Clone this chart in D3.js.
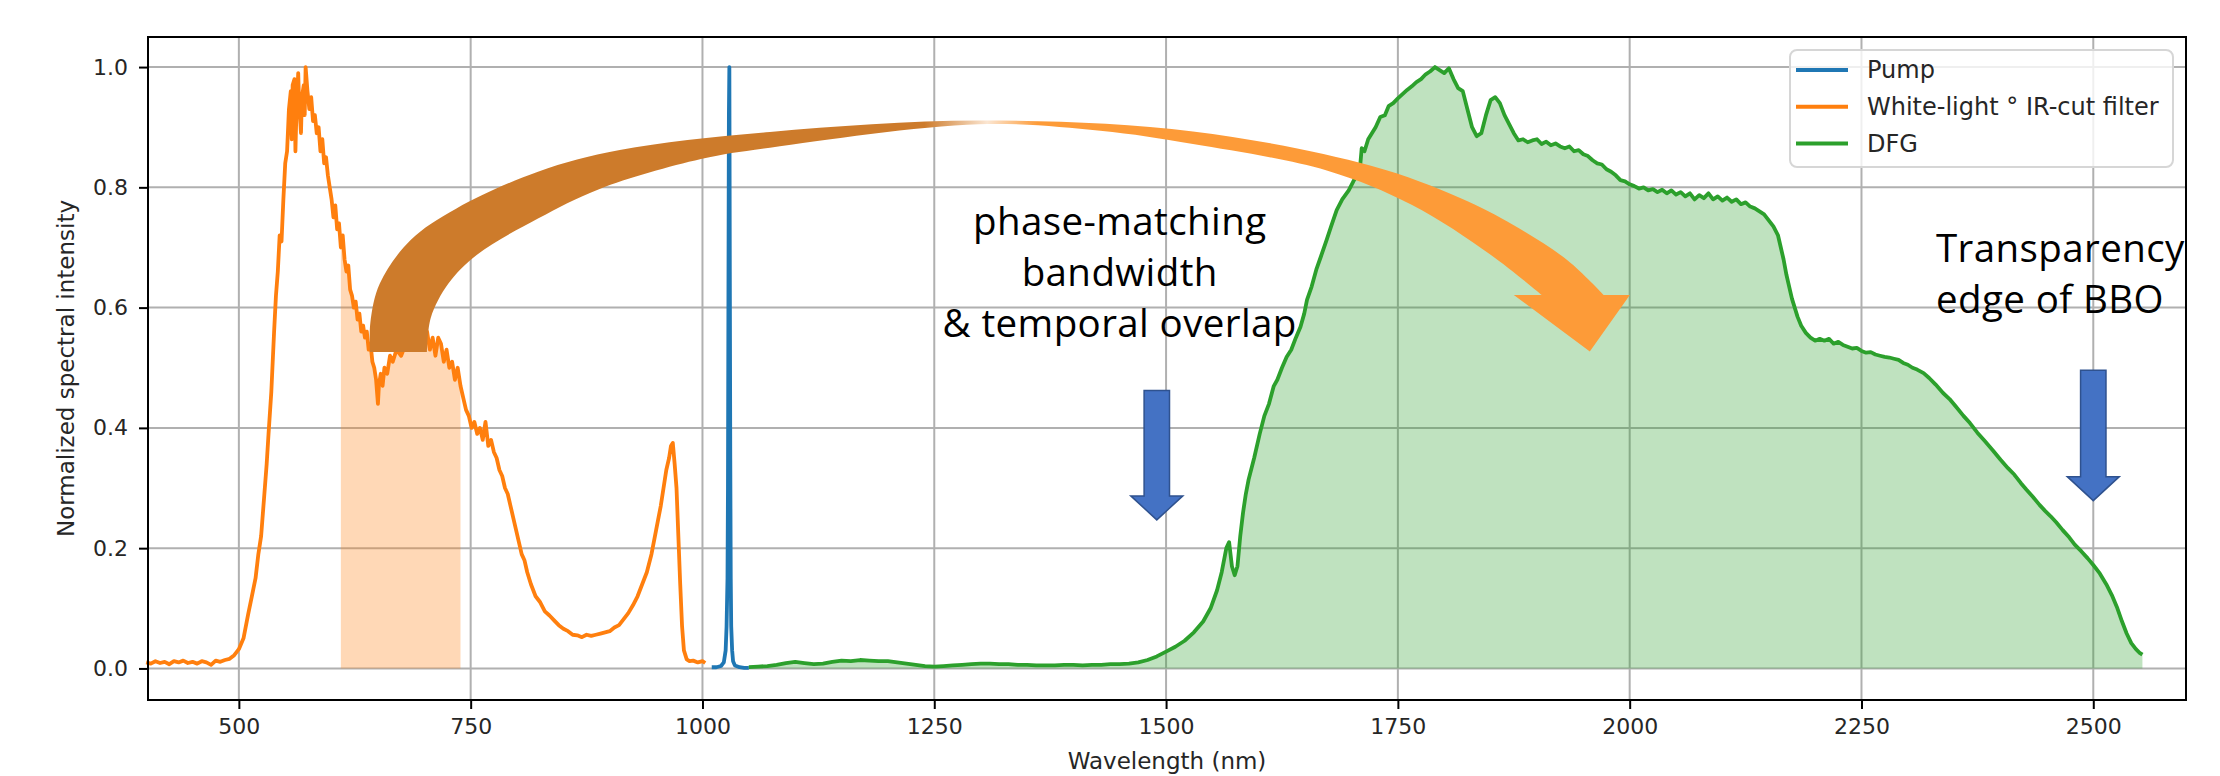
<!DOCTYPE html>
<html>
  <head>
    <meta charset="UTF-8">
    <style>
      body {
        margin: 0;
        background: #ffffff;
      }

      .tick text {
        font-family: 'DejaVu Sans', sans-serif;
        font-size: 22px;
        fill: #262626;
      }

      .axis-label {
        font-family: 'DejaVu Sans', sans-serif;
        font-size: 23px;
        fill: #262626;
      }

      .legend text {
        font-family: 'DejaVu Sans', sans-serif;
        font-size: 24px;
        fill: #262626;
      }

      .note {
        font-family: 'Open Sans', sans-serif;
        font-size: 38.5px;
        letter-spacing: 0.4px;
        fill: #000000;
      }
    </style>
    <script src="https://cdn.jsdelivr.net/npm/d3@7"></script>
  </head>

  <body>
    <svg id="spectrum-chart"></svg>

    <script type="text/javascript">
      // values
      let seriesNames = ['Pump', 'White-light \u00b0 IR-cut filter', 'DFG']
      let seriesColors = ['#1f77b4', '#ff7f0e', '#2ca02c']
      let xTicks = [500, 750, 1000, 1250, 1500, 1750, 2000, 2250, 2500]
      let yTicks = [0, 0.2, 0.4, 0.6, 0.8, 1.0]
      let filterBand = [610, 740]

      let pumpWavelength = [1010, 1015, 1020, 1023, 1025, 1026, 1027, 1027.5, 1028, 1028.5, 1029, 1029.5, 1030, 1030.5, 1031, 1032, 1033, 1035, 1040, 1045, 1050]
      let pumpIntensity = [0.002, 0.002, 0.004, 0.01, 0.03, 0.07, 0.15, 0.30, 0.62, 0.92, 1.0, 0.66, 0.35, 0.15, 0.07, 0.03, 0.012, 0.005, 0.002, 0.001, 0.001]

      let whiteWavelength = [
        400, 405, 410, 415, 420, 425, 430, 435, 440, 445, 450, 455, 460, 465, 470, 475, 480, 485, 490, 495,
        500, 505, 510, 514, 518, 521, 524, 527, 530, 532, 535, 538, 540, 542, 544, 546, 548, 550, 552, 554,
        556, 557, 558, 560, 561, 562, 564, 565, 567, 568, 570, 571, 572, 574, 576, 578, 580, 582, 584, 586,
        588, 590, 592, 594, 596, 598, 600, 602, 604, 606, 608, 610, 612, 614, 616, 618, 620, 622, 624, 626,
        628, 630, 632, 634, 636, 638, 640, 642, 644, 646, 648, 650, 651, 653, 655, 657, 660, 663, 666, 670,
        675, 680, 685, 690, 695, 700, 703, 706, 709, 712, 715, 718, 721, 724, 727, 730, 733, 736, 739, 742,
        745, 748, 751, 754, 757, 760, 763, 766, 769, 772, 775, 778, 781, 784, 787, 790, 793, 796, 799, 802,
        805, 808, 811, 815, 820, 825, 830, 835, 840, 845, 850, 855, 860, 865, 870, 875, 880, 885, 890, 895,
        900, 905, 910, 915, 920, 925, 930, 935, 940, 945, 950, 955, 958, 961, 964, 966, 968, 970, 972, 974,
        976, 978, 980, 983, 986, 990, 995, 1000, 1003
      ]
      let whiteIntensity = [
        0.010, 0.008, 0.012, 0.009, 0.011, 0.007, 0.012, 0.010, 0.013, 0.009, 0.011, 0.008, 0.012, 0.010, 0.006, 0.013, 0.011, 0.014, 0.016, 0.022,
        0.032, 0.05, 0.09, 0.12, 0.15, 0.19, 0.22, 0.28, 0.34, 0.39, 0.46, 0.56, 0.62, 0.66, 0.72, 0.71, 0.78, 0.84, 0.86, 0.93,
        0.96, 0.88, 0.97, 0.98, 0.86, 0.92, 0.99, 0.94, 0.89, 0.95, 0.97, 0.92, 1.0, 0.96, 0.93, 0.95, 0.91, 0.92, 0.89, 0.90,
        0.86, 0.88, 0.84, 0.85, 0.82, 0.80, 0.78, 0.75, 0.77, 0.73, 0.74, 0.70, 0.72, 0.68, 0.66, 0.67, 0.63, 0.62, 0.60, 0.61,
        0.58, 0.59, 0.56, 0.57, 0.55, 0.56, 0.53, 0.54, 0.51, 0.50, 0.48, 0.44, 0.47, 0.49, 0.47, 0.50, 0.49, 0.52, 0.51, 0.53,
        0.52, 0.54, 0.53, 0.55, 0.54, 0.53, 0.56, 0.53, 0.55, 0.52, 0.55, 0.54, 0.51, 0.53, 0.50, 0.51, 0.48, 0.50, 0.47, 0.45,
        0.43, 0.42, 0.40, 0.41, 0.39, 0.40, 0.38, 0.41, 0.37, 0.38, 0.36, 0.35, 0.33, 0.32, 0.30, 0.29, 0.27, 0.25, 0.23, 0.21,
        0.19, 0.18, 0.16, 0.14, 0.12, 0.11, 0.095, 0.088, 0.08, 0.072, 0.066, 0.062, 0.056, 0.055, 0.052, 0.056, 0.054, 0.056, 0.058, 0.060,
        0.062, 0.068, 0.072, 0.082, 0.092, 0.105, 0.12, 0.14, 0.16, 0.19, 0.23, 0.27, 0.30, 0.33, 0.35, 0.37, 0.375, 0.34, 0.30, 0.22,
        0.14, 0.07, 0.03, 0.015, 0.012, 0.013, 0.010, 0.012, 0.009
      ]

      let dfgWavelength = [
        1050, 1060, 1070, 1080, 1090, 1100, 1110, 1120, 1130, 1140, 1150, 1160, 1170, 1180, 1190, 1200, 1210, 1220, 1230, 1240,
        1250, 1260, 1270, 1280, 1290, 1300, 1310, 1320, 1330, 1340, 1350, 1360, 1370, 1380, 1390, 1400, 1410, 1420, 1430, 1440,
        1450, 1460, 1470, 1480, 1490, 1500, 1510, 1520, 1530, 1540, 1548, 1555, 1560, 1565, 1568, 1571, 1574, 1577, 1580, 1583,
        1586, 1589, 1595, 1601, 1606, 1611, 1616, 1620, 1625, 1630, 1635, 1640, 1645, 1649, 1652, 1657, 1662, 1667, 1673, 1678,
        1684, 1690, 1697, 1702, 1706, 1709, 1711, 1714, 1718, 1722, 1726, 1731, 1736, 1740, 1745, 1750, 1755, 1760, 1765, 1770,
        1775, 1780, 1785, 1790, 1795, 1800, 1805, 1810, 1815, 1820, 1825, 1830, 1835, 1840, 1845, 1850, 1855, 1860, 1865, 1870,
        1875, 1880, 1885, 1890, 1895, 1900, 1905, 1910, 1915, 1920, 1925, 1930, 1935, 1940, 1945, 1950, 1955, 1960, 1965, 1970,
        1975, 1980, 1985, 1990, 1995, 2000, 2005, 2010, 2015, 2020, 2025, 2030, 2035, 2040, 2045, 2050, 2055, 2060, 2065, 2070,
        2075, 2080, 2085, 2090, 2095, 2100, 2105, 2110, 2115, 2120, 2125, 2130, 2135, 2140, 2145, 2150, 2155, 2160, 2163, 2166,
        2169, 2172, 2175, 2178, 2181, 2185, 2190, 2195, 2200, 2205, 2210, 2215, 2220, 2225, 2230, 2235, 2240, 2245, 2250, 2255,
        2260, 2265, 2270, 2275, 2280, 2285, 2290, 2295, 2300, 2305, 2310, 2317, 2323, 2330, 2338, 2345, 2352, 2360, 2367, 2375,
        2383, 2392, 2400, 2408, 2415, 2422, 2428, 2435, 2442, 2448, 2454, 2460, 2467, 2474, 2480, 2487, 2494, 2500, 2507, 2514,
        2520, 2526, 2531, 2536, 2541, 2546, 2550, 2553
      ]
      let dfgIntensity = [
        0.002, 0.003, 0.004, 0.006, 0.009, 0.011, 0.009, 0.007, 0.008, 0.011, 0.013, 0.012, 0.014, 0.013, 0.012, 0.012, 0.010, 0.008, 0.006, 0.004,
        0.003, 0.004, 0.005, 0.006, 0.007, 0.008, 0.008, 0.007, 0.007, 0.006, 0.006, 0.005, 0.005, 0.005, 0.006, 0.006, 0.005, 0.006, 0.006, 0.007,
        0.007, 0.008, 0.010, 0.014, 0.020, 0.028, 0.036, 0.046, 0.060, 0.078, 0.10, 0.13, 0.16, 0.20, 0.21, 0.17, 0.155, 0.17, 0.22, 0.259,
        0.29, 0.314, 0.35, 0.39, 0.42, 0.44, 0.469, 0.48, 0.50, 0.518, 0.53, 0.55, 0.568, 0.59, 0.613, 0.635, 0.663, 0.685, 0.712, 0.735,
        0.762, 0.78, 0.795, 0.81, 0.82, 0.83, 0.865, 0.86, 0.88, 0.89, 0.90, 0.917, 0.92, 0.935, 0.94, 0.948, 0.955, 0.962, 0.968, 0.975,
        0.98, 0.988, 0.993, 1.0, 0.995, 0.99, 0.998, 0.98, 0.965, 0.96, 0.93, 0.90, 0.885, 0.89, 0.92, 0.945, 0.95, 0.94, 0.92, 0.905,
        0.89, 0.878, 0.88, 0.875, 0.878, 0.88, 0.872, 0.876, 0.87, 0.873, 0.868, 0.865, 0.868, 0.86, 0.862, 0.855, 0.852, 0.845, 0.84, 0.838,
        0.83, 0.826, 0.82, 0.812, 0.81, 0.805, 0.802, 0.798, 0.8, 0.795, 0.797, 0.792, 0.796, 0.79, 0.795, 0.788, 0.792, 0.785, 0.79, 0.78,
        0.787, 0.782, 0.79, 0.78, 0.785, 0.778, 0.783, 0.776, 0.78, 0.772, 0.775, 0.768, 0.765, 0.76, 0.755, 0.745, 0.735, 0.72, 0.70, 0.68,
        0.655, 0.635, 0.615, 0.6, 0.585, 0.57, 0.558, 0.55, 0.545, 0.548, 0.545, 0.548, 0.54, 0.543, 0.538, 0.535, 0.532, 0.533, 0.528, 0.525,
        0.526, 0.522, 0.52, 0.518, 0.517, 0.515, 0.513, 0.508, 0.505, 0.5, 0.497, 0.491, 0.483, 0.472, 0.458, 0.448, 0.435, 0.42, 0.408, 0.392,
        0.378, 0.362, 0.347, 0.333, 0.322, 0.308, 0.297, 0.285, 0.272, 0.262, 0.253, 0.243, 0.23, 0.218, 0.206, 0.195, 0.183, 0.172, 0.158, 0.14,
        0.122, 0.1, 0.078, 0.058, 0.042, 0.032, 0.026, 0.023
      ]

      // slide annotations, placed in data units (wavelength, intensity)
      let arcOuter = [[641.4, 0.526], [641.8, 0.575], [652, 0.640], [685, 0.712], [734.7, 0.765], [822.6, 0.826], [910.8, 0.862],
        [1072.8, 0.892], [1297.8, 0.911], [1529, 0.893], [1721, 0.836], [1817.8, 0.782], [1875, 0.737], [1933.5, 0.678], [1972, 0.621]]
      let arcHead = [[2000.2, 0.621], [1957, 0.527], [1875, 0.621], [1905.1, 0.621]]
      let arcInner = [[1905.1, 0.621], [1850, 0.688], [1764.8, 0.771], [1673.3, 0.828], [1529, 0.872], [1429, 0.894], [1297.8, 0.905],
        [1072.8, 0.866], [998.4, 0.847], [888.4, 0.797], [822.6, 0.748], [756.8, 0.688], [726, 0.640], [707, 0.583], [702.9, 0.526]]
      let downArrows = [
        {x: 1490, top: 0.462, tip: 0.247},
        {x: 2500, top: 0.496, tip: 0.279}
      ]
      let notes = [
        {x: 1450, y: 0.721, anchor: 'middle', lines: ['phase-matching', 'bandwidth', '& temporal overlap']},
        {x: 2330.4, y: 0.676, anchor: 'start', lines: ['Transparency', 'edge of BBO']}
      ]

      function getConfig() {
        let width = 2220
        let height = 776
        let margin = {top: 37, right: 34, bottom: 76, left: 148}
        let bodyWidth = width - margin.left - margin.right
        let bodyHeight = height - margin.top - margin.bottom

        let container = d3.select('#spectrum-chart')
          .attr('width', width)
          .attr('height', height)

        return {width, height, margin, bodyWidth, bodyHeight, container}
      }

      function getScales(config) {
        let {margin, width, height} = config
        let xScale = d3.scaleLinear()
          .domain([402, 2600])
          .range([margin.left, width - margin.right])
        let yScale = d3.scaleLinear()
          .domain([-0.0525, 1.05])
          .range([height - margin.bottom, margin.top])
        return {xScale, yScale}
      }

      function drawGrid(scales, config) {
        let {xScale, yScale} = scales
        let {container, margin, width, height} = config
        let grid = container.append('g').attr('class', 'grid')

        grid.selectAll('.vgrid')
          .data(xTicks)
          .enter()
          .append('line')
          .attr('x1', d => xScale(d))
          .attr('x2', d => xScale(d))
          .attr('y1', margin.top)
          .attr('y2', height - margin.bottom)
          .attr('stroke', '#b0b0b0')
          .attr('stroke-width', 2)

        grid.selectAll('.hgrid')
          .data(yTicks)
          .enter()
          .append('line')
          .attr('x1', margin.left)
          .attr('x2', width - margin.right)
          .attr('y1', d => yScale(d))
          .attr('y2', d => yScale(d))
          .attr('stroke', '#b0b0b0')
          .attr('stroke-width', 2)
      }

      function drawSeries(scales, config) {
        let {xScale, yScale} = scales
        let {container} = config

        let pump = pumpWavelength.map((w, i) => [w, pumpIntensity[i]])
        let white = whiteWavelength.map((w, i) => [w, whiteIntensity[i]])
        let dfg = dfgWavelength.map((w, i) => [w, dfgIntensity[i]])
        let filtered = white.filter(d => d[0] >= filterBand[0] && d[0] <= filterBand[1])

        let area = d3.area()
          .x(d => xScale(d[0]))
          .y0(yScale(0))
          .y1(d => yScale(d[1]))
        let line = d3.line()
          .x(d => xScale(d[0]))
          .y(d => yScale(d[1]))

        container.append('path')
          .attr('d', area(filtered))
          .attr('fill', seriesColors[1])
          .attr('fill-opacity', 0.3)
        container.append('path')
          .attr('d', area(dfg))
          .attr('fill', seriesColors[2])
          .attr('fill-opacity', 0.3)

        let series = [pump, white, dfg]
        series.forEach((s, i) => {
          container.append('path')
            .attr('d', line(s))
            .attr('fill', 'none')
            .attr('stroke', seriesColors[i])
            .attr('stroke-width', 3.8)
            .attr('stroke-linejoin', 'round')
        })
      }

      function drawAxes(scales, config) {
        let {xScale, yScale} = scales
        let {container, margin, height, bodyWidth, bodyHeight} = config

        let axisX = d3.axisBottom(xScale)
          .tickValues(xTicks)
          .tickSize(9)
          .tickPadding(9)
          .tickFormat(d3.format('d'))
        let gx = container.append('g')
          .attr('transform', `translate(0, ${height - margin.bottom})`)
          .call(axisX)

        let axisY = d3.axisLeft(yScale)
          .tickValues(yTicks)
          .tickSize(9)
          .tickPadding(11)
          .tickFormat(d3.format('.1f'))
        let gy = container.append('g')
          .attr('transform', `translate(${margin.left}, 0)`)
          .call(axisY)

        ;[gx, gy].forEach(g => {
          g.select('.domain').remove()
          g.selectAll('.tick line').attr('stroke', '#000').attr('stroke-width', 2)
        })

        container.append('rect')
          .attr('x', margin.left)
          .attr('y', margin.top)
          .attr('width', bodyWidth)
          .attr('height', bodyHeight)
          .attr('fill', 'none')
          .attr('stroke', '#000')
          .attr('stroke-width', 2)

        container.append('text')
          .attr('class', 'axis-label')
          .attr('x', margin.left + bodyWidth / 2)
          .attr('y', 769)
          .attr('text-anchor', 'middle')
          .text('Wavelength (nm)')

        container.append('text')
          .attr('class', 'axis-label')
          .attr('transform', `translate(66, ${margin.top + bodyHeight / 2}) rotate(-90)`)
          .attr('text-anchor', 'middle')
          .attr('dominant-baseline', 'central')
          .text('Normalized spectral intensity')
      }

      function drawLegend(config) {
        let {container} = config
        let legend = container.append('g').attr('class', 'legend')

        legend.append('rect')
          .attr('x', 1790)
          .attr('y', 50)
          .attr('width', 383)
          .attr('height', 117)
          .attr('rx', 7)
          .attr('fill', '#ffffff')
          .attr('fill-opacity', 0.8)
          .attr('stroke', '#d6d6d6')
          .attr('stroke-width', 2)

        let rows = legend.selectAll('.row')
          .data(seriesNames)
          .enter()
          .append('g')
          .attr('transform', (d, i) => `translate(1796, ${70 + i * 36.8})`)

        rows.append('line')
          .attr('x1', 0)
          .attr('x2', 52)
          .attr('stroke', (d, i) => seriesColors[i])
          .attr('stroke-width', 4)

        rows.append('text')
          .attr('x', 71)
          .attr('dominant-baseline', 'central')
          .text(d => d)
      }

      function drawAnnotations(scales, config) {
        let {xScale, yScale} = scales
        let {container} = config

        let defs = container.append('defs')
        let grad = defs.append('linearGradient')
          .attr('id', 'arc-fill')
          .attr('gradientUnits', 'userSpaceOnUse')
          .attr('x1', xScale(arcOuter[0][0]))
          .attr('x2', xScale(arcHead[0][0]))
          .attr('y1', 0)
          .attr('y2', 0)
        let stops = [[0, '#cd7b2b'], [0.44, '#cd7b2b'], [0.49, '#fbe6d2'], [0.53, '#fd9b38'], [1, '#fd9b38']]
        stops.forEach(s => {
          grad.append('stop').attr('offset', s[0]).attr('stop-color', s[1])
        })

        let curve = d3.line()
          .x(d => xScale(d[0]))
          .y(d => yScale(d[1]))
          .curve(d3.curveCatmullRom)
        let outerPath = curve(arcOuter)
        let headPath = arcHead.map(p => `L${xScale(p[0])},${yScale(p[1])}`).join('')
        let innerPath = curve(arcInner).replace(/^M/, 'L')

        container.append('path')
          .attr('d', outerPath + headPath + innerPath + 'Z')
          .attr('fill', 'url(#arc-fill)')

        let shaft = 12.7
        let barb = 26
        let headLength = 24
        downArrows.forEach(a => {
          let cx = xScale(a.x)
          let top = yScale(a.top)
          let tip = yScale(a.tip)
          let base = tip - headLength
          let pts = [[cx - shaft, top], [cx + shaft, top], [cx + shaft, base], [cx + barb, base],
            [cx, tip], [cx - barb, base], [cx - shaft, base]]
          container.append('path')
            .attr('d', 'M' + pts.map(p => p.join(',')).join('L') + 'Z')
            .attr('fill', '#4472c4')
            .attr('stroke', '#2f528f')
            .attr('stroke-width', 1.5)
        })

        notes.forEach(n => {
          let text = container.append('text')
            .attr('class', 'note')
            .attr('text-anchor', n.anchor)
          n.lines.forEach((l, i) => {
            text.append('tspan')
              .attr('x', xScale(n.x))
              .attr('y', yScale(n.y) + i * 51)
              .text(l)
          })
        })
      }

      function drawChart() {
        let config = getConfig()
        let scales = getScales(config)
        drawGrid(scales, config)
        drawSeries(scales, config)
        drawAxes(scales, config)
        drawLegend(config)
        drawAnnotations(scales, config)
      }

      drawChart()
    </script>
  </body>
</html>
